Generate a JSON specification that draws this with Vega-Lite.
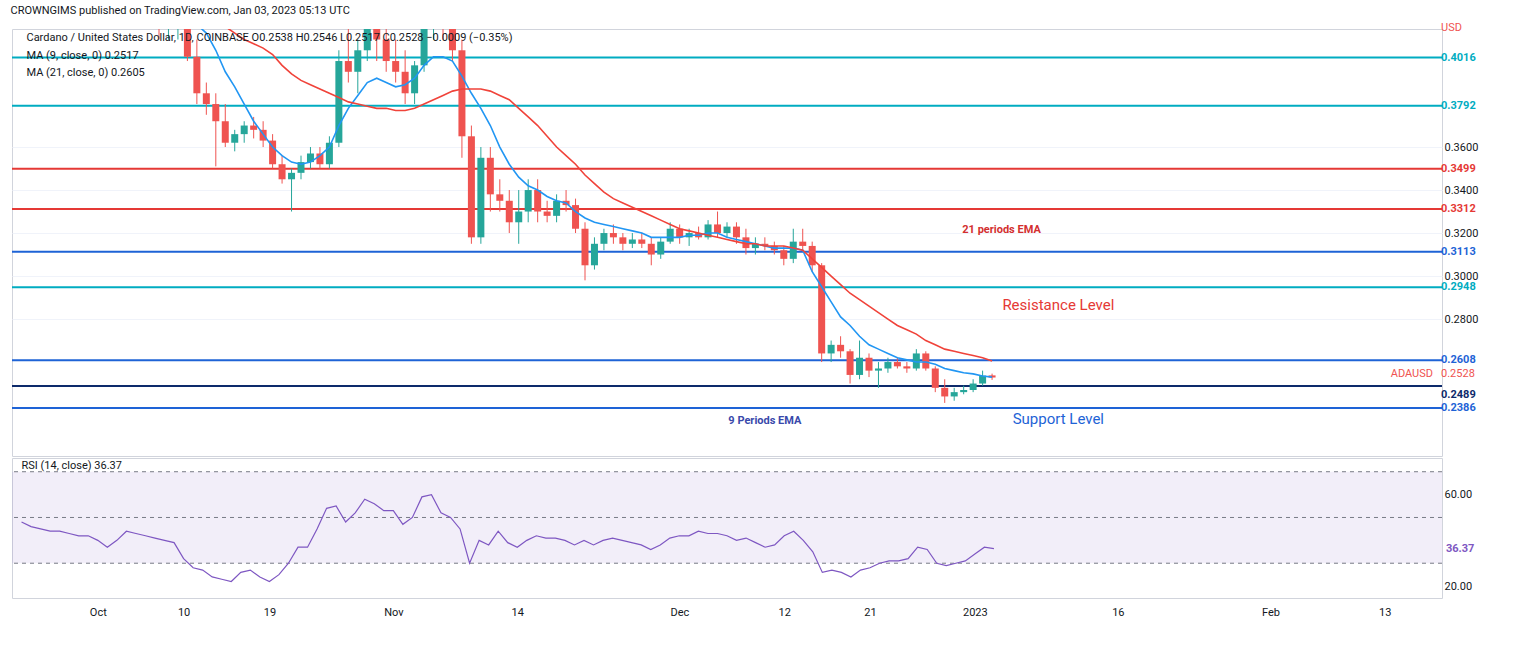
{
"$schema":"https://vega.github.io/schema/vega-lite/v6.json",
"padding":{"left":10,"top":4,"right":70,"bottom":5},
"title":{"text":"CROWNGIMS published on TradingView.com, Jan 03, 2023 05:13 UTC","anchor":"start","fontSize":11,"fontWeight":"normal","font":"Roboto","color":"#131722","offset":6},
"config":{"font":"Roboto","view":{"stroke":"#d1d4dc"},"axis":{"labelFont":"Roboto","labelFontSize":11,"labelColor":"#131722","gridColor":"#f0f3fa","domainColor":"#d1d4dc","tickColor":"#d1d4dc"}},
"datasets":{
"d":[
{"date":"2022-09-23","o":0.455,"h":0.46,"l":0.44,"c":0.445,"e9":0.45,"e21":0.47,"rsi":48},
{"date":"2022-09-24","o":0.445,"h":0.45,"l":0.435,"c":0.44,"e9":0.448,"e21":0.468,"rsi":46},
{"date":"2022-09-25","o":0.44,"h":0.445,"l":0.43,"c":0.435,"e9":0.446,"e21":0.466,"rsi":45},
{"date":"2022-09-26","o":0.435,"h":0.445,"l":0.43,"c":0.44,"e9":0.444,"e21":0.464,"rsi":44},
{"date":"2022-09-27","o":0.44,"h":0.46,"l":0.43,"c":0.435,"e9":0.442,"e21":0.462,"rsi":44},
{"date":"2022-09-28","o":0.435,"h":0.445,"l":0.42,"c":0.44,"e9":0.44,"e21":0.46,"rsi":43},
{"date":"2022-09-29","o":0.44,"h":0.445,"l":0.43,"c":0.44,"e9":0.438,"e21":0.458,"rsi":42},
{"date":"2022-09-30","o":0.44,"h":0.45,"l":0.43,"c":0.435,"e9":0.436,"e21":0.455,"rsi":42},
{"date":"2022-10-01","o":0.435,"h":0.44,"l":0.425,"c":0.43,"e9":0.434,"e21":0.452,"rsi":40},
{"date":"2022-10-02","o":0.43,"h":0.435,"l":0.42,"c":0.425,"e9":0.432,"e21":0.45,"rsi":37},
{"date":"2022-10-03","o":0.425,"h":0.43,"l":0.415,"c":0.42,"e9":0.43,"e21":0.447,"rsi":40},
{"date":"2022-10-04","o":0.42,"h":0.44,"l":0.42,"c":0.435,"e9":0.428,"e21":0.445,"rsi":44},
{"date":"2022-10-05","o":0.435,"h":0.44,"l":0.425,"c":0.43,"e9":0.426,"e21":0.442,"rsi":43},
{"date":"2022-10-06","o":0.43,"h":0.435,"l":0.42,"c":0.425,"e9":0.424,"e21":0.44,"rsi":42},
{"date":"2022-10-07","o":0.425,"h":0.43,"l":0.41,"c":0.415,"e9":0.422,"e21":0.437,"rsi":41},
{"date":"2022-10-08","o":0.415,"h":0.42,"l":0.41,"c":0.415,"e9":0.42,"e21":0.434,"rsi":40},
{"date":"2022-10-09","o":0.415,"h":0.425,"l":0.41,"c":0.42,"e9":0.419,"e21":0.431,"rsi":39},
{"date":"2022-10-10","o":0.42,"h":0.425,"l":0.4,"c":0.402,"e9":0.418,"e21":0.428,"rsi":32},
{"date":"2022-10-11","o":0.402,"h":0.41,"l":0.38,"c":0.385,"e9":0.417,"e21":0.425,"rsi":28},
{"date":"2022-10-12","o":0.385,"h":0.39,"l":0.375,"c":0.38,"e9":0.413,"e21":0.422,"rsi":27},
{"date":"2022-10-13","o":0.38,"h":0.385,"l":0.351,"c":0.372,"e9":0.405,"e21":0.419,"rsi":24},
{"date":"2022-10-14","o":0.372,"h":0.38,"l":0.36,"c":0.362,"e9":0.395,"e21":0.416,"rsi":23},
{"date":"2022-10-15","o":0.362,"h":0.368,"l":0.358,"c":0.366,"e9":0.388,"e21":0.413,"rsi":22},
{"date":"2022-10-16","o":0.366,"h":0.372,"l":0.362,"c":0.37,"e9":0.38,"e21":0.41,"rsi":26},
{"date":"2022-10-17","o":0.37,"h":0.374,"l":0.364,"c":0.368,"e9":0.372,"e21":0.408,"rsi":27},
{"date":"2022-10-18","o":0.368,"h":0.372,"l":0.36,"c":0.363,"e9":0.366,"e21":0.406,"rsi":24},
{"date":"2022-10-19","o":0.363,"h":0.366,"l":0.35,"c":0.352,"e9":0.36,"e21":0.403,"rsi":22},
{"date":"2022-10-20","o":0.352,"h":0.356,"l":0.343,"c":0.345,"e9":0.356,"e21":0.398,"rsi":25},
{"date":"2022-10-21","o":0.345,"h":0.35,"l":0.33,"c":0.348,"e9":0.353,"e21":0.394,"rsi":30},
{"date":"2022-10-22","o":0.348,"h":0.356,"l":0.345,"c":0.353,"e9":0.352,"e21":0.391,"rsi":37},
{"date":"2022-10-23","o":0.353,"h":0.36,"l":0.35,"c":0.357,"e9":0.353,"e21":0.389,"rsi":37},
{"date":"2022-10-24","o":0.357,"h":0.36,"l":0.35,"c":0.352,"e9":0.356,"e21":0.387,"rsi":45},
{"date":"2022-10-25","o":0.352,"h":0.365,"l":0.35,"c":0.362,"e9":0.36,"e21":0.385,"rsi":54},
{"date":"2022-10-26","o":0.362,"h":0.405,"l":0.36,"c":0.4,"e9":0.37,"e21":0.383,"rsi":55},
{"date":"2022-10-27","o":0.4,"h":0.415,"l":0.39,"c":0.395,"e9":0.378,"e21":0.381,"rsi":48},
{"date":"2022-10-28","o":0.395,"h":0.41,"l":0.385,"c":0.405,"e9":0.384,"e21":0.38,"rsi":52},
{"date":"2022-10-29","o":0.405,"h":0.43,"l":0.4,"c":0.42,"e9":0.39,"e21":0.379,"rsi":58},
{"date":"2022-10-30","o":0.42,"h":0.425,"l":0.4,"c":0.41,"e9":0.392,"e21":0.378,"rsi":56},
{"date":"2022-10-31","o":0.41,"h":0.415,"l":0.395,"c":0.4,"e9":0.39,"e21":0.378,"rsi":53},
{"date":"2022-11-01","o":0.4,"h":0.41,"l":0.39,"c":0.395,"e9":0.388,"e21":0.377,"rsi":53},
{"date":"2022-11-02","o":0.395,"h":0.405,"l":0.38,"c":0.385,"e9":0.389,"e21":0.377,"rsi":47},
{"date":"2022-11-03","o":0.385,"h":0.4,"l":0.38,"c":0.398,"e9":0.392,"e21":0.378,"rsi":50},
{"date":"2022-11-04","o":0.398,"h":0.43,"l":0.395,"c":0.425,"e9":0.398,"e21":0.38,"rsi":59},
{"date":"2022-11-05","o":0.425,"h":0.44,"l":0.41,"c":0.43,"e9":0.402,"e21":0.382,"rsi":60},
{"date":"2022-11-06","o":0.43,"h":0.44,"l":0.41,"c":0.415,"e9":0.402,"e21":0.384,"rsi":52},
{"date":"2022-11-07","o":0.415,"h":0.42,"l":0.4,"c":0.405,"e9":0.4,"e21":0.386,"rsi":50},
{"date":"2022-11-08","o":0.405,"h":0.41,"l":0.355,"c":0.365,"e9":0.393,"e21":0.387,"rsi":45},
{"date":"2022-11-09","o":0.365,"h":0.37,"l":0.315,"c":0.318,"e9":0.385,"e21":0.387,"rsi":30},
{"date":"2022-11-10","o":0.318,"h":0.36,"l":0.315,"c":0.355,"e9":0.378,"e21":0.387,"rsi":40},
{"date":"2022-11-11","o":0.355,"h":0.36,"l":0.33,"c":0.338,"e9":0.37,"e21":0.386,"rsi":38},
{"date":"2022-11-12","o":0.338,"h":0.345,"l":0.33,"c":0.335,"e9":0.36,"e21":0.384,"rsi":44},
{"date":"2022-11-13","o":0.335,"h":0.34,"l":0.32,"c":0.325,"e9":0.352,"e21":0.382,"rsi":39},
{"date":"2022-11-14","o":0.325,"h":0.34,"l":0.315,"c":0.33,"e9":0.346,"e21":0.378,"rsi":37},
{"date":"2022-11-15","o":0.33,"h":0.345,"l":0.325,"c":0.34,"e9":0.342,"e21":0.374,"rsi":40},
{"date":"2022-11-16","o":0.34,"h":0.345,"l":0.325,"c":0.33,"e9":0.34,"e21":0.37,"rsi":42},
{"date":"2022-11-17","o":0.33,"h":0.335,"l":0.325,"c":0.328,"e9":0.337,"e21":0.365,"rsi":41},
{"date":"2022-11-18","o":0.328,"h":0.338,"l":0.325,"c":0.335,"e9":0.335,"e21":0.36,"rsi":41},
{"date":"2022-11-19","o":0.335,"h":0.34,"l":0.33,"c":0.333,"e9":0.334,"e21":0.356,"rsi":40},
{"date":"2022-11-20","o":0.333,"h":0.336,"l":0.32,"c":0.322,"e9":0.33,"e21":0.352,"rsi":38},
{"date":"2022-11-21","o":0.322,"h":0.325,"l":0.298,"c":0.305,"e9":0.327,"e21":0.347,"rsi":40},
{"date":"2022-11-22","o":0.305,"h":0.318,"l":0.303,"c":0.315,"e9":0.325,"e21":0.343,"rsi":38},
{"date":"2022-11-23","o":0.315,"h":0.322,"l":0.312,"c":0.32,"e9":0.324,"e21":0.339,"rsi":40},
{"date":"2022-11-24","o":0.32,"h":0.324,"l":0.315,"c":0.318,"e9":0.323,"e21":0.336,"rsi":41},
{"date":"2022-11-25","o":0.318,"h":0.32,"l":0.312,"c":0.315,"e9":0.322,"e21":0.334,"rsi":40},
{"date":"2022-11-26","o":0.315,"h":0.32,"l":0.313,"c":0.317,"e9":0.321,"e21":0.332,"rsi":39},
{"date":"2022-11-27","o":0.317,"h":0.32,"l":0.313,"c":0.315,"e9":0.32,"e21":0.33,"rsi":38},
{"date":"2022-11-28","o":0.315,"h":0.318,"l":0.305,"c":0.31,"e9":0.318,"e21":0.328,"rsi":36},
{"date":"2022-11-29","o":0.31,"h":0.318,"l":0.308,"c":0.316,"e9":0.318,"e21":0.326,"rsi":38},
{"date":"2022-11-30","o":0.316,"h":0.325,"l":0.315,"c":0.322,"e9":0.318,"e21":0.324,"rsi":41},
{"date":"2022-12-01","o":0.322,"h":0.324,"l":0.315,"c":0.318,"e9":0.318,"e21":0.322,"rsi":42},
{"date":"2022-12-02","o":0.318,"h":0.322,"l":0.314,"c":0.32,"e9":0.319,"e21":0.321,"rsi":42},
{"date":"2022-12-03","o":0.32,"h":0.323,"l":0.317,"c":0.318,"e9":0.319,"e21":0.32,"rsi":44},
{"date":"2022-12-04","o":0.318,"h":0.326,"l":0.317,"c":0.324,"e9":0.32,"e21":0.319,"rsi":43},
{"date":"2022-12-05","o":0.324,"h":0.33,"l":0.318,"c":0.32,"e9":0.32,"e21":0.318,"rsi":43},
{"date":"2022-12-06","o":0.32,"h":0.325,"l":0.318,"c":0.323,"e9":0.318,"e21":0.317,"rsi":42},
{"date":"2022-12-07","o":0.323,"h":0.325,"l":0.315,"c":0.318,"e9":0.317,"e21":0.316,"rsi":40},
{"date":"2022-12-08","o":0.318,"h":0.322,"l":0.31,"c":0.313,"e9":0.316,"e21":0.315,"rsi":41},
{"date":"2022-12-09","o":0.313,"h":0.318,"l":0.31,"c":0.315,"e9":0.315,"e21":0.315,"rsi":39},
{"date":"2022-12-10","o":0.315,"h":0.318,"l":0.312,"c":0.314,"e9":0.314,"e21":0.314,"rsi":37},
{"date":"2022-12-11","o":0.314,"h":0.316,"l":0.31,"c":0.312,"e9":0.313,"e21":0.314,"rsi":38},
{"date":"2022-12-12","o":0.312,"h":0.314,"l":0.305,"c":0.308,"e9":0.313,"e21":0.314,"rsi":42},
{"date":"2022-12-13","o":0.308,"h":0.322,"l":0.306,"c":0.316,"e9":0.313,"e21":0.313,"rsi":44},
{"date":"2022-12-14","o":0.316,"h":0.322,"l":0.312,"c":0.314,"e9":0.312,"e21":0.312,"rsi":40},
{"date":"2022-12-15","o":0.314,"h":0.316,"l":0.302,"c":0.305,"e9":0.302,"e21":0.308,"rsi":35},
{"date":"2022-12-16","o":0.305,"h":0.306,"l":0.26,"c":0.264,"e9":0.295,"e21":0.304,"rsi":26},
{"date":"2022-12-17","o":0.264,"h":0.27,"l":0.26,"c":0.268,"e9":0.288,"e21":0.3,"rsi":27},
{"date":"2022-12-18","o":0.268,"h":0.272,"l":0.262,"c":0.265,"e9":0.281,"e21":0.296,"rsi":26},
{"date":"2022-12-19","o":0.265,"h":0.266,"l":0.25,"c":0.254,"e9":0.277,"e21":0.292,"rsi":24},
{"date":"2022-12-20","o":0.254,"h":0.27,"l":0.252,"c":0.262,"e9":0.272,"e21":0.289,"rsi":27},
{"date":"2022-12-21","o":0.262,"h":0.264,"l":0.253,"c":0.256,"e9":0.268,"e21":0.286,"rsi":28},
{"date":"2022-12-22","o":0.256,"h":0.26,"l":0.248,"c":0.257,"e9":0.266,"e21":0.283,"rsi":30},
{"date":"2022-12-23","o":0.257,"h":0.262,"l":0.255,"c":0.26,"e9":0.264,"e21":0.28,"rsi":31},
{"date":"2022-12-24","o":0.26,"h":0.262,"l":0.257,"c":0.258,"e9":0.262,"e21":0.277,"rsi":31},
{"date":"2022-12-25","o":0.258,"h":0.26,"l":0.255,"c":0.257,"e9":0.261,"e21":0.275,"rsi":32},
{"date":"2022-12-26","o":0.257,"h":0.266,"l":0.256,"c":0.264,"e9":0.26,"e21":0.273,"rsi":37},
{"date":"2022-12-27","o":0.264,"h":0.265,"l":0.256,"c":0.257,"e9":0.26,"e21":0.27,"rsi":36},
{"date":"2022-12-28","o":0.257,"h":0.258,"l":0.246,"c":0.248,"e9":0.259,"e21":0.268,"rsi":30},
{"date":"2022-12-29","o":0.248,"h":0.252,"l":0.241,"c":0.244,"e9":0.257,"e21":0.266,"rsi":29},
{"date":"2022-12-30","o":0.244,"h":0.248,"l":0.242,"c":0.246,"e9":0.256,"e21":0.265,"rsi":30},
{"date":"2022-12-31","o":0.246,"h":0.249,"l":0.245,"c":0.247,"e9":0.255,"e21":0.264,"rsi":31},
{"date":"2023-01-01","o":0.247,"h":0.252,"l":0.246,"c":0.25,"e9":0.2545,"e21":0.263,"rsi":34},
{"date":"2023-01-02","o":0.25,"h":0.256,"l":0.249,"c":0.2537,"e9":0.2535,"e21":0.262,"rsi":37},
{"date":"2023-01-03","o":0.2538,"h":0.2546,"l":0.2517,"c":0.2528,"e9":0.253,"e21":0.2605,"rsi":36.37}
],
"levels":[
{"p":0.4016,"kind":"cyan","lab":"0.4016"},
{"p":0.3792,"kind":"cyan","lab":"0.3792"},
{"p":0.3499,"kind":"red","lab":"0.3499"},
{"p":0.3312,"kind":"red","lab":"0.3312"},
{"p":0.3113,"kind":"blue","lab":"0.3113"},
{"p":0.2948,"kind":"cyan","lab":"0.2948"},
{"p":0.2608,"kind":"blue","lab":"0.2608"},
{"p":0.2489,"kind":"navy","lab":""},
{"p":0.2386,"kind":"blue","lab":"0.2386"}
]
},
"vconcat":[
{
"width":1430,"height":427,
"layer":[
{"data":{"name":"levels"},"mark":{"type":"rule","strokeWidth":2},
 "encoding":{"y":{"field":"p","type":"quantitative","scale":{"domain":[0.2163,0.4149],"nice":false,"zero":false},
   "axis":{"orient":"right","values":[0.28,0.3,0.32,0.34,0.36],"format":".4f","title":null,"grid":true,"domain":false,"ticks":false}},
  "color":{"field":"kind","type":"nominal","legend":null,"scale":{"domain":["cyan","red","blue","navy"],"range":["#00acc1","#e53935","#1e63d6","#0d2a6b"]}}}},
{"data":{"name":"levels"},"mark":{"type":"text","align":"left","dx":4,"fontSize":11,"fontWeight":"bold","clip":false},
 "encoding":{"x":{"datum":{"year":2023,"month":2,"date":19},"type":"temporal"},"y":{"field":"p","type":"quantitative"},"text":{"field":"lab"},
  "color":{"field":"kind","type":"nominal","legend":null}}},
{"data":{"values":[{"p":0.2489,"t":"0.2489"}]},"mark":{"type":"text","align":"left","dx":4,"dy":9,"fontSize":11,"fontWeight":"bold","color":"#0d2a6b","clip":false},
 "encoding":{"x":{"datum":{"year":2023,"month":2,"date":19},"type":"temporal"},"y":{"field":"p","type":"quantitative"},"text":{"field":"t"}}},
{"data":{"values":[{"p":0.2528,"t":"0.2528"},{"p":0.4135,"t":"USD"}]},"mark":{"type":"text","align":"left","dx":4,"dy":-4,"fontSize":11,"color":"#ef5350","clip":false},
 "encoding":{"x":{"datum":{"year":2023,"month":2,"date":19},"type":"temporal"},"y":{"field":"p","type":"quantitative"},"text":{"field":"t"}}},
{"data":{"values":[{"p":0.2528,"t":"ADAUSD"}]},"mark":{"type":"text","align":"right","dx":-4,"dy":-4,"fontSize":11,"color":"#ef5350","clip":false},
 "encoding":{"x":{"datum":{"year":2023,"month":2,"date":19},"type":"temporal"},"y":{"field":"p","type":"quantitative"},"text":{"field":"t"}}},
{"data":{"name":"d"},"mark":{"type":"rule","clip":true},
 "encoding":{"x":{"field":"date","type":"temporal","scale":{"type":"utc","domain":["2022-09-22","2023-02-19"]},"axis":{"labels":false,"ticks":false,"title":null,"grid":false,"domain":false}},
  "y":{"field":"l","type":"quantitative"},"y2":{"field":"h"},
  "stroke":{"condition":{"test":"datum.c>=datum.o","value":"#26a69a"},"value":"#ef5350"}}},
{"data":{"name":"d"},"mark":{"type":"bar","size":7,"clip":true},
 "encoding":{"x":{"field":"date","type":"temporal"},
  "y":{"field":"o","type":"quantitative"},"y2":{"field":"c"},
  "fill":{"condition":{"test":"datum.c>=datum.o","value":"#26a69a"},"value":"#ef5350"}}},
{"data":{"name":"d"},"mark":{"type":"line","color":"#2196f3","strokeWidth":1.6,"clip":true},
 "encoding":{"x":{"field":"date","type":"temporal"},"y":{"field":"e9","type":"quantitative"}}},
{"data":{"name":"d"},"mark":{"type":"line","color":"#f0433a","strokeWidth":1.6,"clip":true},
 "encoding":{"x":{"field":"date","type":"temporal"},"y":{"field":"e21","type":"quantitative"}}},
{"data":{"values":[
 {"date":"2022-09-23","p":0.4105,"t":"Cardano / United States Dollar, 1D, COINBASE  O0.2538  H0.2546  L0.2517  C0.2528  −0.0009 (−0.35%)"},
 {"date":"2022-09-23","p":0.4025,"t":"MA (9, close, 0)  0.2517"},
 {"date":"2022-09-23","p":0.3945,"t":"MA (21, close, 0)  0.2605"}]},
 "mark":{"type":"text","align":"left","fontSize":11,"color":"#131722"},
 "encoding":{"x":{"field":"date","type":"temporal"},"y":{"field":"p","type":"quantitative"},"text":{"field":"t"}}},
{"data":{"values":[{"date":"2023-01-10","p":0.2865,"t":"Resistance Level"}]},
 "mark":{"type":"text","fontSize":15,"color":"#e53935"},
 "encoding":{"x":{"field":"date","type":"temporal"},"y":{"field":"p","type":"quantitative"},"text":{"field":"t"}}},
{"data":{"values":[{"date":"2023-01-10","p":0.2335,"t":"Support Level"}]},
 "mark":{"type":"text","fontSize":15,"color":"#1e63d6"},
 "encoding":{"x":{"field":"date","type":"temporal"},"y":{"field":"p","type":"quantitative"},"text":{"field":"t"}}},
{"data":{"values":[{"date":"2023-01-04","p":0.3214,"t":"21 periods EMA"}]},
 "mark":{"type":"text","fontSize":11,"fontWeight":"bold","color":"#d32f2f"},
 "encoding":{"x":{"field":"date","type":"temporal"},"y":{"field":"p","type":"quantitative"},"text":{"field":"t"}}},
{"data":{"values":[{"date":"2022-12-10","p":0.2326,"t":"9 Periods EMA"}]},
 "mark":{"type":"text","fontSize":11,"fontWeight":"bold","color":"#3949ab"},
 "encoding":{"x":{"field":"date","type":"temporal"},"y":{"field":"p","type":"quantitative"},"text":{"field":"t"}}}
]
},
{
"width":1430,"height":140,
"layer":[
{"data":{"values":[{"a":30,"b":70}]},"mark":{"type":"rect","color":"#7e57c2","opacity":0.1},
 "encoding":{"y":{"field":"a","type":"quantitative","scale":{"domain":[14.8,76],"nice":false,"zero":false},
   "axis":{"orient":"right","values":[20,60],"format":".2f","title":null,"grid":false,"domain":false,"ticks":false}},"y2":{"field":"b"}}},
{"data":{"values":[{"v":70},{"v":50},{"v":30}]},"mark":{"type":"rule","color":"#787b86","strokeDash":[4,4],"strokeWidth":1},
 "encoding":{"y":{"field":"v","type":"quantitative"}}},
{"data":{"name":"d"},"mark":{"type":"line","color":"#7e57c2","strokeWidth":1.2},
 "encoding":{"x":{"field":"date","type":"temporal","scale":{"type":"utc","domain":["2022-09-22","2023-02-19"]},
   "axis":{"title":null,"grid":false,"ticks":false,"domain":false,"labelPadding":8,
    "values":["2022-10-01","2022-10-10","2022-10-19","2022-11-01","2022-11-14","2022-12-01","2022-12-12","2022-12-21","2023-01-01","2023-01-16","2023-02-01","2023-02-13"],
    "labelExpr":"utcdate(datum.value)==1 ? (utcmonth(datum.value)==0 ? '2023' : utcFormat(datum.value,'%b')) : utcFormat(datum.value,'%-d')"}},
  "y":{"field":"rsi","type":"quantitative"}}},
{"data":{"values":[{"date":"2022-09-23","v":70,"t":"RSI (14, close)  36.37"}]},
 "mark":{"type":"text","align":"left","dy":-6,"fontSize":11,"color":"#131722"},
 "encoding":{"x":{"field":"date","type":"temporal"},"y":{"field":"v","type":"quantitative"},"text":{"field":"t"}}},
{"data":{"values":[{"date":"2023-02-19","v":36.37,"t":"36.37"}]},
 "mark":{"type":"text","align":"left","dx":4,"fontSize":11,"fontWeight":"bold","color":"#7e57c2","clip":false},
 "encoding":{"x":{"field":"date","type":"temporal"},"y":{"field":"v","type":"quantitative"},"text":{"field":"t"}}}
]
}
],
"spacing":0
}
